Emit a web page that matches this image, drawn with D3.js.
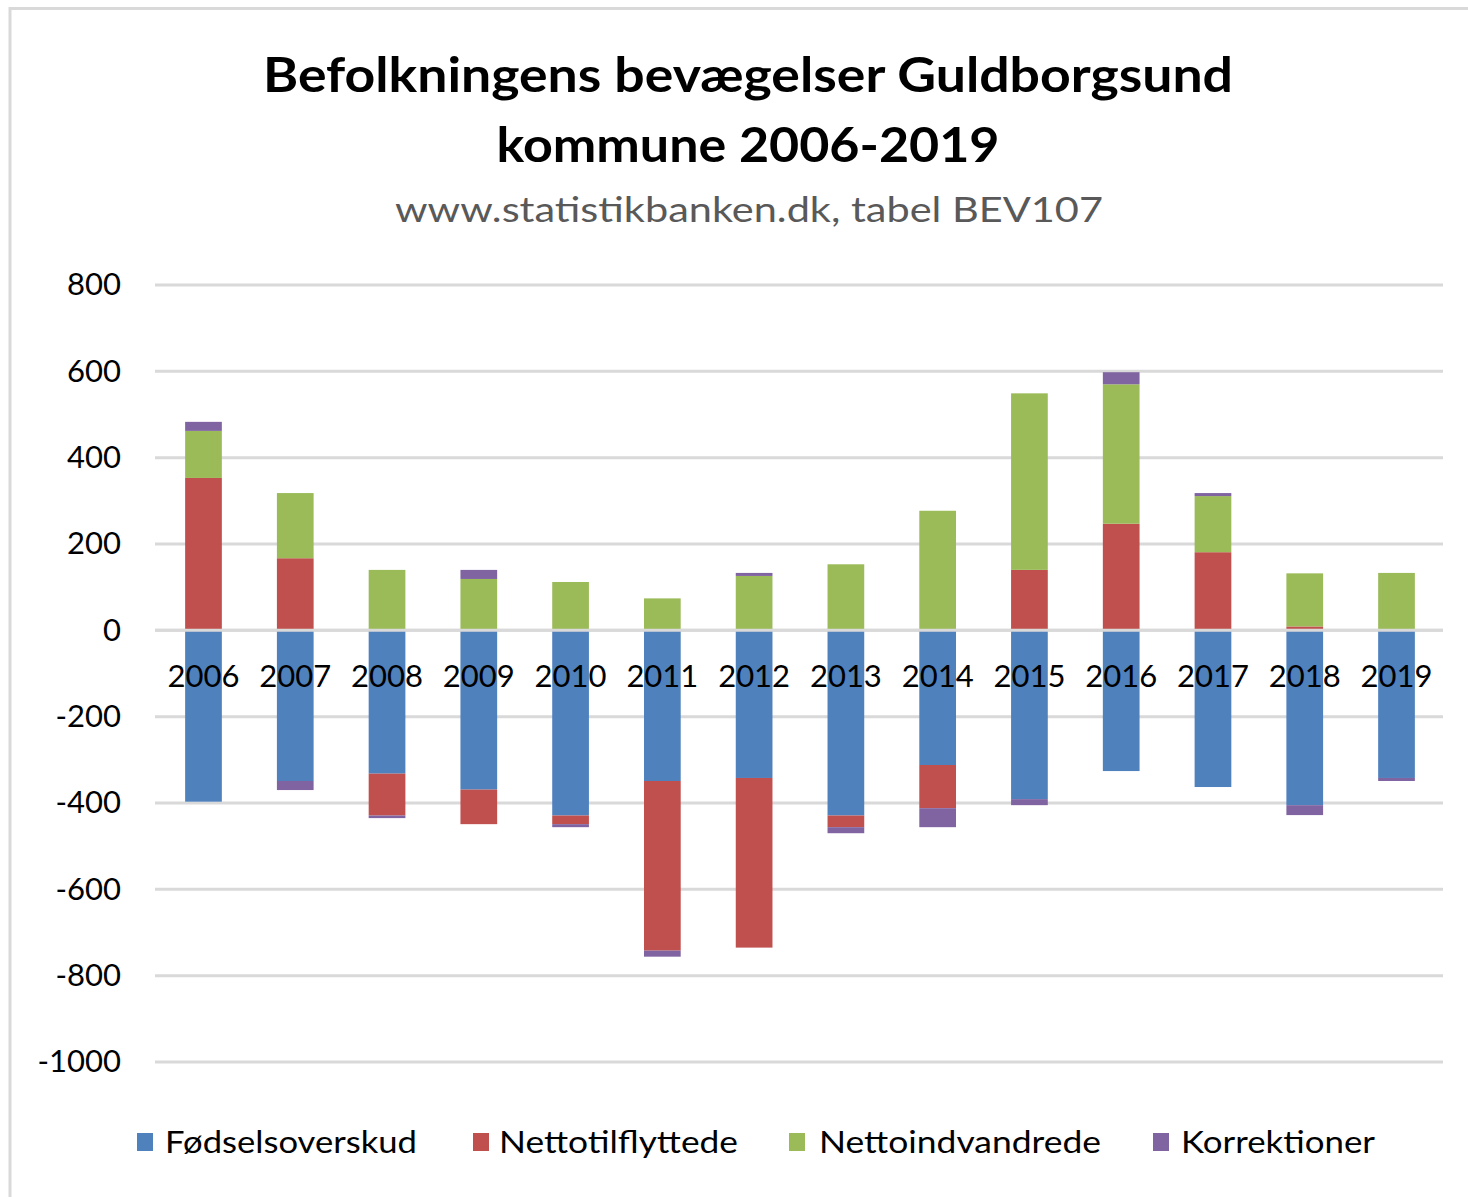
<!DOCTYPE html>
<html>
<head>
<meta charset="utf-8">
<script src="https://cdn.jsdelivr.net/npm/d3@7"></script>
<style>
  html, body { margin: 0; padding: 0; background: #fff; }
  svg { display: block; }
  text { font-family: Lato, "Open Sans", "DejaVu Sans", sans-serif; }
</style>
</head>
<body>
<script>
const years = ["2006","2007","2008","2009","2010","2011","2012","2013","2014","2015","2016","2017","2018","2019"];
const seriesNames = ["Fødselsoverskud","Nettotilflyttede","Nettoindvandrede","Korrektioner"];
const foedselsoverskud = [-397,-349,-332,-369,-429,-349,-342,-429,-312,-391,-326,-363,-405,-342];
const nettotilflyttede = [353,167,-97,-80,-20,-393,-393,-27,-100,140,247,181,9,0];
const nettoindvandrede = [109,151,140,119,112,74,126,153,277,409,323,130,123,133];
const korrektioner = [21,-21,-6,21,-7,-14,7,-14,-44,-14,28,7,-23,-7];
const yTicks = [800,600,400,200,0,-200,-400,-600,-800,-1000];
const colors = ["#4f81bd","#c0504d","#9bbb59","#8064a2"];
const titleLines = ["Befolkningens bevægelser Guldborgsund","kommune 2006-2019"];
const subtitle = "www.statistikbanken.dk, tabel BEV107";

const W = 1468, H = 1197;
const svg = d3.select("body").append("svg").attr("width", W).attr("height", H);

// frame
svg.append("path")
  .attr("d", `M10,${H} L10,8.5 L${W},8.5`)
  .attr("fill","none").attr("stroke","#d9d9d9").attr("stroke-width",3);

// titles
svg.append("text").attr("x",748).attr("y",92).attr("text-anchor","middle")
  .attr("font-weight","bold").attr("font-size",47).attr("fill","#000")
  .attr("textLength",970).attr("lengthAdjust","spacingAndGlyphs").text(titleLines[0]);
svg.append("text").attr("x",748).attr("y",162).attr("text-anchor","middle")
  .attr("font-weight","bold").attr("font-size",47).attr("fill","#000")
  .attr("textLength",503).attr("lengthAdjust","spacingAndGlyphs").text(titleLines[1]);
svg.append("text").attr("x",749).attr("y",222).attr("text-anchor","middle")
  .attr("font-size",34).attr("fill","#595959")
  .attr("textLength",708).attr("lengthAdjust","spacingAndGlyphs").text(subtitle);

// data table
const table = years.map((y,i) => ({
  year: y,
  [seriesNames[0]]: foedselsoverskud[i],
  [seriesNames[1]]: nettotilflyttede[i],
  [seriesNames[2]]: nettoindvandrede[i],
  [seriesNames[3]]: korrektioner[i]
}));
const stacked = d3.stack().keys(seriesNames).offset(d3.stackOffsetDiverging)(table);

const x = d3.scaleBand().domain(years).range([157.6, 1442.4]).paddingInner(0.6).paddingOuter(0.3);
const y = d3.scaleLinear().domain([-1000, 800]).range([1062, 285]);

// gridlines
svg.append("g").selectAll("line").data(yTicks).join("line")
  .attr("x1",155).attr("x2",1443)
  .attr("y1",d=>y(d)).attr("y2",d=>y(d))
  .attr("stroke","#d9d9d9").attr("stroke-width",3);

// y tick labels
const yAxis = d3.axisLeft(y).tickValues(yTicks).tickSize(0).tickPadding(0).tickFormat(d => d < 0 ? "-" + Math.abs(d) : String(d));
const ya = svg.append("g").attr("transform","translate(121,0)").call(yAxis);
ya.select(".domain").remove();
ya.selectAll("text").attr("font-size",31).attr("fill","#000")
  .style("font-family","Lato, 'Open Sans', sans-serif");

// bars
svg.append("g").selectAll("g").data(stacked).join("g")
  .attr("fill",(d,i)=>colors[i])
  .selectAll("rect").data(d=>d).join("rect")
  .attr("x",d=>x(d.data.year))
  .attr("width",x.bandwidth())
  .attr("y",d=>y(Math.max(d[0],d[1])))
  .attr("height",d=>Math.abs(y(d[0])-y(d[1])));

// zero axis line over bars
svg.append("line").attr("x1",155).attr("x2",1443)
  .attr("y1",y(0)).attr("y2",y(0))
  .attr("stroke","#d9d9d9").attr("stroke-width",3);

// x category labels
const xAxis = d3.axisBottom(x).tickSize(0).tickPadding(0);
const xa = svg.append("g").attr("transform",`translate(0,${y(0)})`).call(xAxis);
xa.select(".domain").remove();
xa.selectAll("text").attr("font-size",31).attr("fill","#000").attr("dy",null).attr("y",57)
  .style("font-family","Lato, 'Open Sans', sans-serif");

// legend
const legendItems = [
  {name: seriesNames[0], sx:137, tx:165, tw:252},
  {name: seriesNames[1], sx:473, tx:499, tw:239},
  {name: seriesNames[2], sx:789, tx:819, tw:282},
  {name: seriesNames[3], sx:1153, tx:1181, tw:194}
];
const lg = svg.append("g");
legendItems.forEach((it,i)=>{
  lg.append("rect").attr("x",it.sx).attr("y",1133).attr("width",16).attr("height",18).attr("fill",colors[i]);
  lg.append("text").attr("x",it.tx).attr("y",1153).attr("font-size",31).attr("fill","#000")
    .attr("textLength",it.tw).attr("lengthAdjust","spacingAndGlyphs").text(it.name);
});
</script>
</body>
</html>
